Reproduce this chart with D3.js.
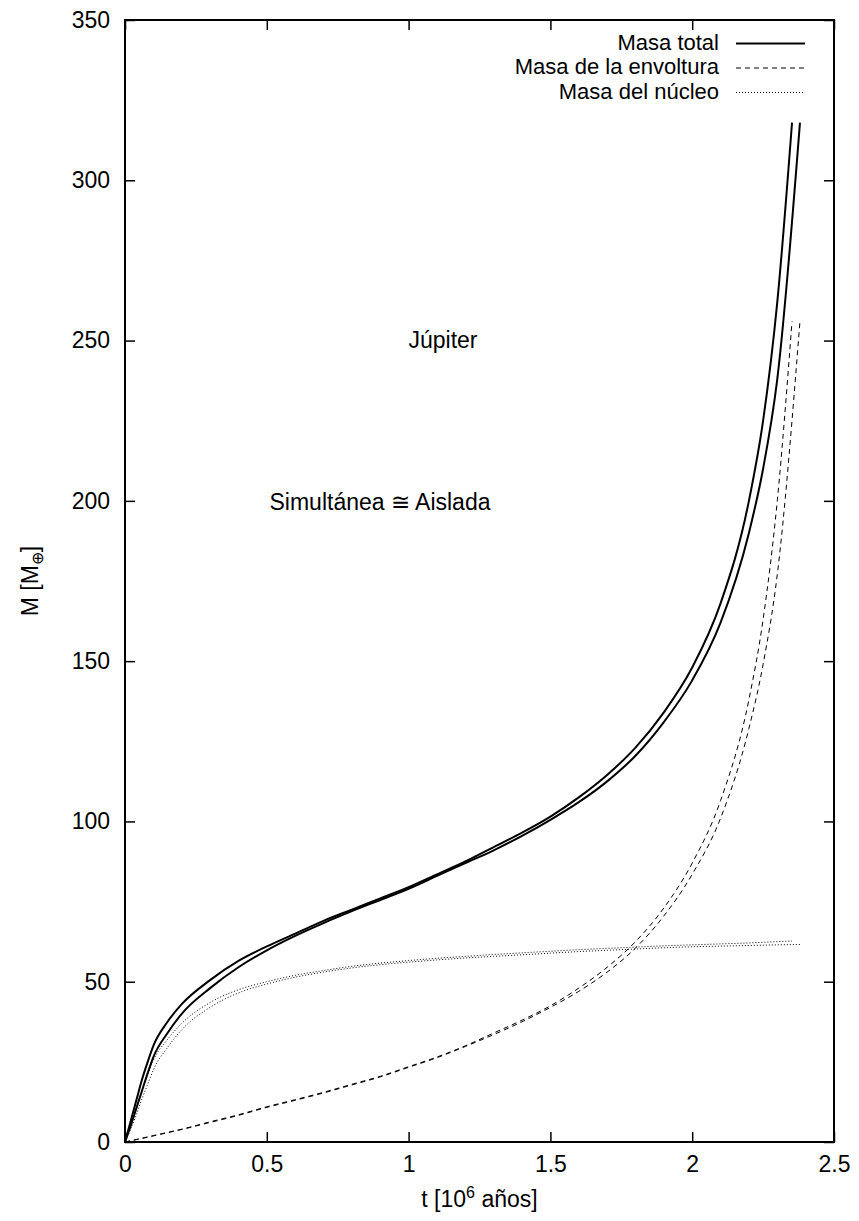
<!DOCTYPE html>
<html>
<head>
<meta charset="utf-8">
<script src="https://cdn.jsdelivr.net/npm/d3@7/dist/d3.min.js"></script>
<style>
  body { margin: 0; background: #fff; }
  svg { font-family: "Liberation Sans", Arial, sans-serif; }
</style>
</head>
<body>
<svg id="chart" width="859" height="1221"></svg>
<script>
// time grid (10^6 years), shared by all series
const tGrid = [0, 0.02, 0.04, 0.06, 0.08, 0.1, 0.15, 0.2, 0.3, 0.4, 0.5, 0.6, 0.7, 0.8, 0.9, 1.0,
  1.1, 1.2, 1.3, 1.4, 1.5, 1.6, 1.7, 1.8, 1.9, 2.0, 2.1, 2.2, 2.25, 2.3];
// last point of each run
const tEndA = 2.352;
const tEndB = 2.38;

// total mass, two runs (simultanea / aislada)
const totalA = [0, 6.5, 13, 19.5, 25, 30, 37.5, 43, 50.5, 56.5, 61, 65, 69, 72.5, 76, 79.5,
  83.5, 87.5, 92, 96.5, 101.5, 107.5, 114.5, 123, 134, 148, 168, 200, 225, 262, 318];
const totalB = [0, 5, 10.5, 16, 21.5, 26.5, 34, 40, 48, 54.5, 59.8, 64.3, 68.3, 72, 75.5, 79,
  83, 87, 91, 95.5, 100.5, 106, 112.5, 120.5, 131, 144, 162, 190, 210, 238, 318];

// envelope mass
const envA = [0, 0.4, 0.8, 1.2, 1.6, 2, 3, 4, 6.3, 8.5, 11, 13.2, 15.5, 18, 20.5, 23.5,
  26.5, 30, 34, 38, 42.5, 48, 54.5, 62.5, 73, 87, 106.5, 138, 163, 200, 256];
const envB = [0, 0.35, 0.75, 1.1, 1.5, 1.9, 2.9, 3.9, 6.1, 8.3, 10.8, 13, 15.3, 17.8, 20.3, 23.3,
  26.3, 29.8, 33.5, 37.5, 42, 47, 53, 60.5, 70.5, 83.5, 101, 129, 149, 177, 256];

// core mass
const coreA = [0, 5, 10.5, 16, 21, 25.5, 32, 37, 43.5, 47.5, 50, 52, 53.5, 54.8, 55.8, 56.6,
  57.3, 57.9, 58.5, 59, 59.5, 60, 60.4, 60.8, 61.2, 61.5, 61.8, 62.1, 62.3, 62.5, 62.7];
const coreB = [0, 4, 8.5, 13.5, 18, 22.5, 29.5, 35, 42, 46.5, 49.3, 51.4, 53, 54.3, 55.3, 56.1,
  56.8, 57.4, 57.9, 58.4, 58.9, 59.4, 59.8, 60.2, 60.6, 60.9, 61.1, 61.3, 61.4, 61.5, 61.6];

const xTicks = [0, 0.5, 1, 1.5, 2, 2.5];
const yTicks = [0, 50, 100, 150, 200, 250, 300, 350];
const legendLabels = ["Masa total", "Masa de la envoltura", "Masa del núcleo"];

const svg = d3.select("#chart");
const mLeft = 125, mRight = 834, mTop = 20, mBottom = 1142;
const fs = 23;

const x = d3.scaleLinear().domain([0, 2.5]).range([mLeft, mRight]);
const y = d3.scaleLinear().domain([0, 350]).range([mBottom, mTop]);

function pts(vals, tEnd) {
  return vals.map((v, i) => [i < tGrid.length ? tGrid[i] : tEnd, v]);
}

const line = d3.line()
  .x(d => x(d[0]))
  .y(d => y(d[1]))
  .curve(d3.curveMonotoneX);

const styles = {
  total: { w: 2, dash: null },
  env: { w: 1, dash: "5,4" },
  core: { w: 1, dash: "1,2" }
};

const series = [
  { v: totalA, end: tEndA, s: styles.total },
  { v: totalB, end: tEndB, s: styles.total },
  { v: envA, end: tEndA, s: styles.env },
  { v: envB, end: tEndB, s: styles.env },
  { v: coreA, end: tEndA, s: styles.core },
  { v: coreB, end: tEndB, s: styles.core }
];

svg.append("g").selectAll("path")
  .data(series)
  .enter()
  .append("path")
  .attr("d", d => line(pts(d.v, d.end)))
  .attr("fill", "none")
  .attr("stroke", "#000")
  .attr("stroke-width", d => d.s.w)
  .attr("stroke-dasharray", d => d.s.dash);

// axes: gnuplot style, inward ticks on all four sides
const tickLen = 10;
svg.append("g")
  .attr("transform", `translate(0,${mBottom})`)
  .call(d3.axisBottom(x).tickValues(xTicks).tickSize(-tickLen).tickPadding(14).tickFormat(d3.format("")))
  .call(g => g.select(".domain").remove());
svg.append("g")
  .attr("transform", `translate(0,${mTop})`)
  .call(d3.axisTop(x).tickValues(xTicks).tickSize(-tickLen).tickFormat(""))
  .call(g => g.select(".domain").remove());
svg.append("g")
  .attr("transform", `translate(${mLeft},0)`)
  .call(d3.axisLeft(y).tickValues(yTicks).tickSize(-tickLen).tickPadding(15))
  .call(g => g.select(".domain").remove());
svg.append("g")
  .attr("transform", `translate(${mRight},0)`)
  .call(d3.axisRight(y).tickValues(yTicks).tickSize(-tickLen).tickFormat(""))
  .call(g => g.select(".domain").remove());

svg.selectAll(".tick line").attr("stroke", "#000").attr("stroke-width", 1.5);
svg.selectAll(".tick text")
  .attr("font-size", fs)
  .attr("fill", "#000")
  .attr("font-family", "Liberation Sans, Arial, sans-serif");

svg.append("rect")
  .attr("x", mLeft).attr("y", mTop)
  .attr("width", mRight - mLeft).attr("height", mBottom - mTop)
  .attr("fill", "none").attr("stroke", "#000").attr("stroke-width", 2);

// axis titles
const xt = svg.append("text")
  .attr("x", (mLeft + mRight) / 2).attr("y", 1207)
  .attr("text-anchor", "middle").attr("font-size", fs);
xt.append("tspan").text("t [10");
xt.append("tspan").attr("dy", -9).attr("font-size", 16).text("6");
xt.append("tspan").attr("dy", 9).text(" años]");

const yt = svg.append("text")
  .attr("transform", `translate(38,${(mTop + mBottom) / 2}) rotate(-90)`)
  .attr("text-anchor", "middle").attr("font-size", fs);
yt.append("tspan").text("M [M");
yt.append("tspan").attr("dy", 5).attr("font-size", 16).text("⊕");
yt.append("tspan").attr("dy", -5).text("]");

// annotations
svg.append("text").attr("x", 443).attr("y", 348)
  .attr("text-anchor", "middle").attr("font-size", fs).text("Júpiter");
svg.append("text").attr("x", 380).attr("y", 510)
  .attr("text-anchor", "middle").attr("font-size", fs).text("Simultánea ≅ Aislada");

// legend
const legend = svg.append("g").selectAll("g")
  .data(legendLabels)
  .enter()
  .append("g")
  .attr("transform", (d, i) => `translate(0,${49.5 + i * 24.5})`);
legend.append("text")
  .attr("x", 719).attr("text-anchor", "end").attr("font-size", 22)
  .text(d => d);
legend.append("line")
  .attr("x1", 736).attr("x2", 805).attr("y1", -6).attr("y2", -6)
  .attr("stroke", "#000")
  .attr("stroke-width", (d, i) => [styles.total, styles.env, styles.core][i].w)
  .attr("stroke-dasharray", (d, i) => [styles.total, styles.env, styles.core][i].dash);
</script>
</body>
</html>
